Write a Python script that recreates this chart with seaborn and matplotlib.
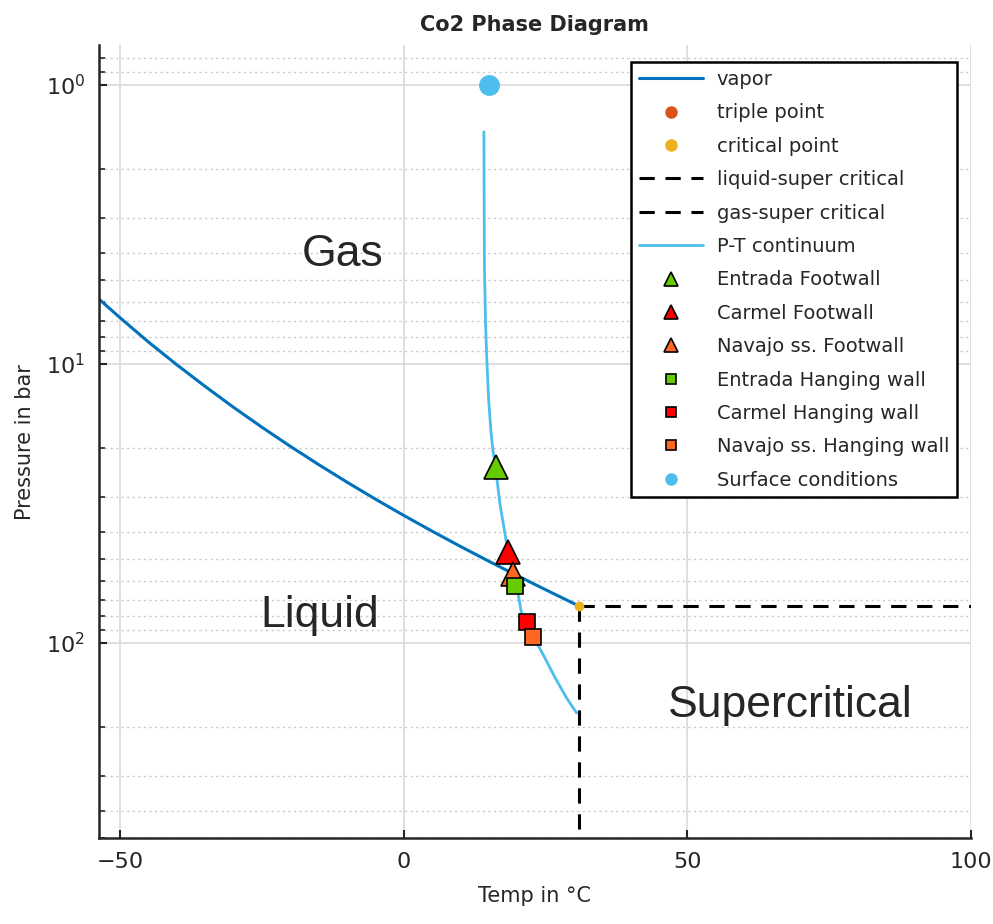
import matplotlib
matplotlib.use('Agg')
import matplotlib.pyplot as plt
import matplotlib.ticker as mticker
import seaborn as sns
import numpy as np
import pandas as pd

sns.set_style('ticks')
plt.rcParams['font.family'] = ['DejaVu Sans']

# CO2 vapor (liquid-gas) curve
vapor_temp = [-53.7, -50, -45, -40, -35, -30, -25, -20, -15, -10, -5,
              0, 5, 10, 15, 20, 25, 30, 31.0]
vapor_pres = [5.85, 6.82, 8.33, 10.05, 12.02, 14.28, 16.83, 19.70, 22.91, 26.49, 30.46,
              34.85, 39.69, 45.02, 50.87, 57.29, 64.34, 72.14, 73.8]

triple_point = (-56.6, 5.18)
critical_point = (31.0, 73.8)

# P-T continuum (light blue curve)
pt_temp = [14.15, 14.25, 14.45, 14.7, 15.0, 15.4, 15.8, 16.2, 17.0, 18.4, 20.1, 21.1,
           23.5, 24.9, 26.7, 28.7, 30.5]
pt_pres = [1.47, 4.47, 7.2, 10.0, 13.5, 17.5, 20.8, 23.4, 31.9, 47.0, 65.2, 84.9,
           100.0, 113.0, 133.0, 157.0, 178.0]

# samples
sample_names = ['Entrada Footwall', 'Carmel Footwall', 'Navajo ss. Footwall',
                'Entrada Hanging wall', 'Carmel Hanging wall', 'Navajo ss. Hanging wall']
sample_temp = [16.2, 18.4, 19.3, 19.7, 21.8, 22.8]
sample_pres = [23.4, 47.0, 56.4, 62.5, 84.3, 95.0]
sample_marker = ['^', '^', '^', 's', 's', 's']
sample_color = ['#66CC00', '#FF0000', '#FF6622', '#66CC00', '#FF0000', '#FF6622']

surface = (15.0, 1.0)

xlim = (-53.7, 100)
ylim = (0.72, 500)

fig = plt.figure(figsize=(9.93, 9.24), dpi=100)
ax = fig.add_axes([0.0997, 0.093, 0.878, 0.858])

vapor_df = pd.DataFrame({'T': vapor_temp, 'P': vapor_pres})
sns.lineplot(data=vapor_df, x='T', y='P', ax=ax, sort=False, estimator=None,
             color='#0072BD', linewidth=2.2, label='vapor')

ax.plot([triple_point[0]], [triple_point[1]], 'o', color='#D95319',
        markersize=6, label='triple point')
ax.plot([critical_point[0]], [critical_point[1]], 'o', color='#EDB120',
        markersize=6, label='critical point', zorder=5)

ax.plot([critical_point[0], critical_point[0]], [critical_point[1], ylim[1]],
        color='black', linewidth=2.2, dashes=(5, 3.5), label='liquid-super critical')
ax.plot([critical_point[0], xlim[1]], [critical_point[1], critical_point[1]],
        color='black', linewidth=2.2, dashes=(5, 3.5), label='gas-super critical')

pt_df = pd.DataFrame({'T': pt_temp, 'P': pt_pres})
sns.lineplot(data=pt_df, x='T', y='P', ax=ax, sort=False, estimator=None,
             color='#4DBEEE', linewidth=2.0, label='P-T continuum')

for name, t, p, m, c in zip(sample_names, sample_temp, sample_pres,
                            sample_marker, sample_color):
    ms = 17 if m == '^' else 12
    ax.plot([t], [p], m, color=c, markeredgecolor='black', markeredgewidth=1.2,
            markersize=ms, label=name, zorder=6)

ax.plot([surface[0]], [surface[1]], 'o', color='#4DBEEE', markersize=14,
        label='Surface conditions', zorder=6)

ax.set_yscale('log')
ax.set_xlim(*xlim)
ax.set_ylim(ylim[1], ylim[0])
ax.set_xticks([-50, 0, 50, 100])
ax.set_yticks([1, 10, 100])
ax.yaxis.set_major_formatter(mticker.LogFormatterSciNotation())
ax.yaxis.set_minor_locator(mticker.LogLocator(base=10, subs=np.arange(2, 10)))
ax.yaxis.set_minor_formatter(mticker.NullFormatter())

ax.grid(True, which='major', color='#d9d9d9', linewidth=1.2)
ax.grid(True, which='minor', axis='y', color='#c8c8c8', linewidth=1.0,
        linestyle=(0, (1.5, 2.5)))
ax.set_axisbelow(True)

for side in ['top', 'right']:
    ax.spines[side].set_visible(False)
for side in ['left', 'bottom']:
    ax.spines[side].set_linewidth(1.8)
ax.tick_params(direction='in', length=6, width=1.5, labelsize=16, pad=10)
ax.tick_params(which='minor', direction='in', length=4, width=1.2)

ax.set_xlabel('Temp in °C', fontsize=15, labelpad=10)
ax.set_ylabel('Pressure in bar', fontsize=15, labelpad=8)
ax.set_title('Co2 Phase Diagram', fontsize=15, fontweight='bold', pad=10)

region_font = dict(family='Liberation Sans', fontsize=32, ha='center', va='center_baseline')
ax.text(-10.8, 3.9, 'Gas', **region_font)
ax.text(-14.8, 76.9, 'Liquid', **region_font)
ax.text(68.2, 161, 'Supercritical', **region_font)

leg = ax.legend(loc='upper right', fontsize=14, frameon=True, fancybox=False,
                edgecolor='black', framealpha=1.0, borderpad=0.4, borderaxespad=0,
                labelspacing=0.74, handlelength=3.3, handletextpad=0.7,
                bbox_to_anchor=(0.984, 0.9786))
leg.get_frame().set_linewidth(1.8)
for h in leg.legend_handles:
    if not hasattr(h, 'get_marker'):
        continue
    m = h.get_marker()
    if m == '^':
        h.set_markersize(10)
    elif m == 's':
        h.set_markersize(7)
    elif m == 'o':
        h.set_markersize(8)

fig.savefig('out.png', dpi=100)
